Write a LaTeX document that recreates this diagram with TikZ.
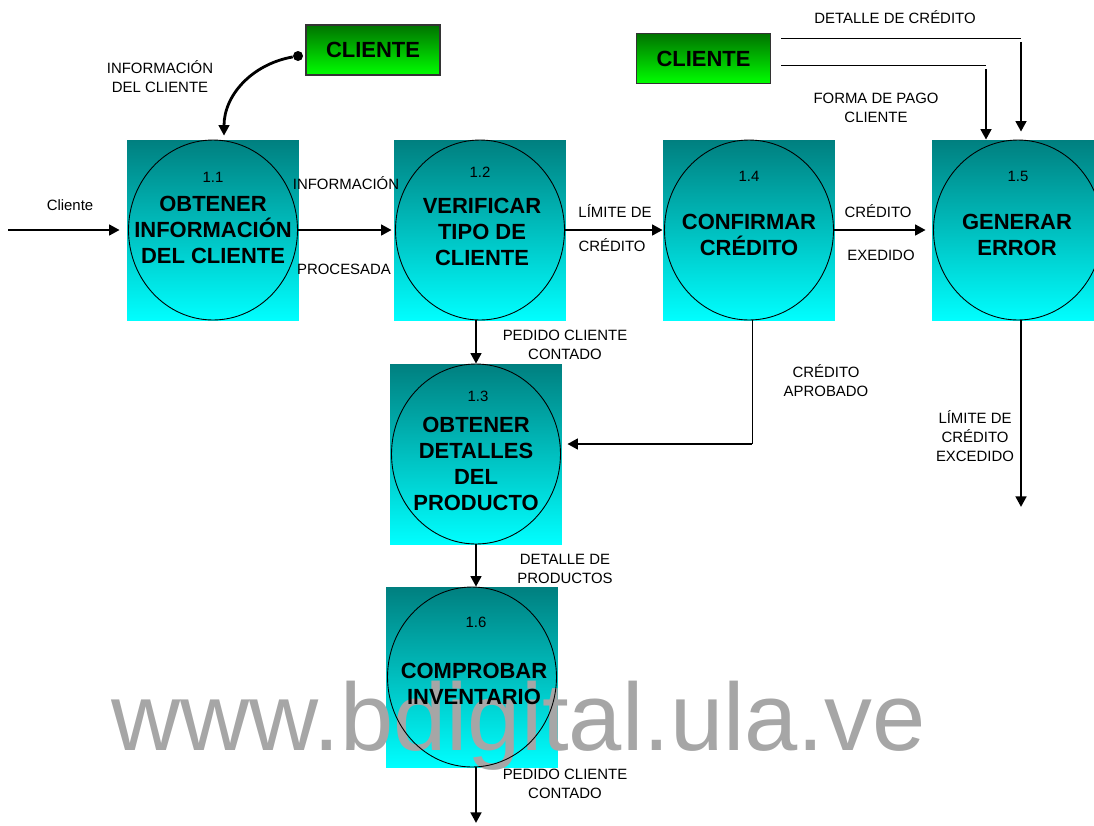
\documentclass[tikz,border=0pt]{standalone}
\usepackage{fontspec}
\setmainfont{Liberation Sans}
\usetikzlibrary{arrows.meta,shapes.geometric}
\tikzset{
  procbox/.style={rectangle, inner sep=0pt, minimum width=3.44cm, minimum height=3.62cm, top color=teal, bottom color=cyan},
  proc/.style={ellipse, draw, line width=0.5pt, inner sep=0pt, minimum width=3.38cm, minimum height=3.6cm},
  ptext/.style={align=center, inner sep=0pt, font=\fontsize{12.5}{14.7}\selectfont\bfseries},
  num/.style={font=\fontsize{8.5}{10}\selectfont},
  lbl/.style={align=center, inner sep=1pt, font=\fontsize{8.5}{10.8}\selectfont},
  entity/.style={rectangle, draw=black!80, line width=0.6pt, minimum width=2.68cm, minimum height=1cm, top color=green!45!black, bottom color=green, font=\fontsize{12.5}{14}\selectfont\bfseries},
  flow/.style={line width=1.6pt, -{Triangle[length=6pt,width=6pt]}},
  link/.style={line width=0.5pt},
}
\begin{document}
\begin{tikzpicture}[x=0.02cm, y=-0.02cm]
\useasboundingbox (0,0) rectangle (1094,825);
% process boxes
\node[procbox] (b11) at (213,230.5) {};
\node[procbox] (b12) at (480,230.5) {};
\node[procbox] (b14) at (749,230.5) {};
\node[procbox] (b15) at (1018,230.5) {};
\node[procbox] (b13) at (476,454.5) {};
\node[procbox] (b16) at (472,677.5) {};
% watermark
\node[anchor=base, inner sep=0pt, text=black!35, font=\fontsize{54.5}{60}\selectfont] (wm) at (518.5,750) {www.bdigital.ula.ve};
\node[proc] (p11) at (213,230) {};
\node[proc] (p12) at (480,230) {};
\node[proc] (p14) at (749,230) {};
\node[proc] (p15) at (1018,230) {};
\node[proc] (p13) at (476,454) {};
\node[proc] (p16) at (472,677) {};
\node[ptext] (t11) at (213,230) {OBTENER\\INFORMACIÓN\\DEL CLIENTE};
\node[ptext] (t12) at (482,232) {VERIFICAR\\TIPO DE\\CLIENTE};
\node[ptext] (t14) at (749,235) {CONFIRMAR\\CRÉDITO};
\node[ptext] (t15) at (1017,235) {GENERAR\\ERROR};
\node[ptext] (t13) at (476,464) {OBTENER\\DETALLES\\DEL\\PRODUCTO};
\node[ptext] (t16) at (474,684) {COMPROBAR\\INVENTARIO};
\node[num] (n11) at (213,177) {1.1};
\node[num] (n12) at (480,172) {1.2};
\node[num] (n14) at (749,176) {1.4};
\node[num] (n15) at (1018,176) {1.5};
\node[num] (n13) at (478,396) {1.3};
\node[num] (n16) at (476,622) {1.6};
% external entities
\node[entity] (c1) at (373,50) {\raisebox{-0.07cm}{CLIENTE}};
\node[entity] (c2) at (703.5,58.5) {\raisebox{-0.07cm}{CLIENTE}};
\node[circle, fill, inner sep=0pt, minimum size=0.2cm] (dot) at (298,56) {};
% flows
\coordinate (in11) at (8,230);
\coordinate (k1) at (1021,38);
\coordinate (k2) at (986,65);
\coordinate (k3) at (752,444);
\coordinate (out15) at (1021,507);
\coordinate (out16) at (476,823);
\draw[flow, shorten >=0.14cm] (in11) -- (in11 -| b11.west);
\draw[flow] (dot) to[out=190, in=90] ([xshift=0.22cm, yshift=0.08cm]b11.north);
\draw[flow, shorten >=0.04cm] (p11.east) -- (p11.east -| b12.west);
\draw[flow] (p12.east) -- (p12.east -| b14.west);
\draw[flow, shorten >=0.12cm] (p14.east) -- (p14.east -| b15.west);
\draw[flow] (b13.north |- p12.south) -- (b13.north);
\draw[flow] (p13.south) -- (p13.south |- b16.north);
\draw[flow] (out16 |- p16.south) -- (out16);
\draw[link] (p14.south -| k3) -- (k3);
\draw[flow, shorten >=0.1cm] (k3) -- (k3 -| b13.east);
\draw[flow] (out15 |- p15.south) -- (out15);
\draw[link, shorten <=0.2cm] (c2.east |- k1) -- (k1);
\draw[flow, shorten <=0.08cm, shorten >=0.16cm] (k1) -- (k1 |- b15.north);
\draw[link, shorten <=0.2cm] (c2.east |- k2) -- (k2);
\draw[flow, shorten <=0.08cm] (k2) -- (k2 |- b15.north);
% labels
\node[lbl] (lcli) at (70,205) {Cliente};
\node[lbl] (linf) at (160,77) {INFORMACIÓN\\DEL CLIENTE};
\node[lbl] (linf2) at (346,183) {INFORMACIÓN};
\node[lbl] (lproc) at (344,269) {PROCESADA};
\node[lbl] (llim) at (615,211) {LÍMITE DE};
\node[lbl] (lcred) at (612,245) {CRÉDITO};
\node[lbl] (lcred2) at (878,211) {CRÉDITO};
\node[lbl] (lexe) at (881,255) {EXEDIDO};
\node[lbl] (ldet) at (895,17) {DETALLE DE CRÉDITO};
\node[lbl] (lpago) at (876,108) {FORMA DE PAGO\\CLIENTE};
\node[lbl] (lped) at (565,345) {PEDIDO CLIENTE\\CONTADO};
\node[lbl] (lapr) at (826,381) {CRÉDITO\\APROBADO};
\node[lbl] (lprod) at (565,569) {DETALLE DE\\PRODUCTOS};
\node[lbl] (lped2) at (565,784) {PEDIDO CLIENTE\\CONTADO};
\node[lbl] (lexc) at (975,436) {LÍMITE DE\\CRÉDITO\\EXCEDIDO};
\end{tikzpicture}
\end{document}
